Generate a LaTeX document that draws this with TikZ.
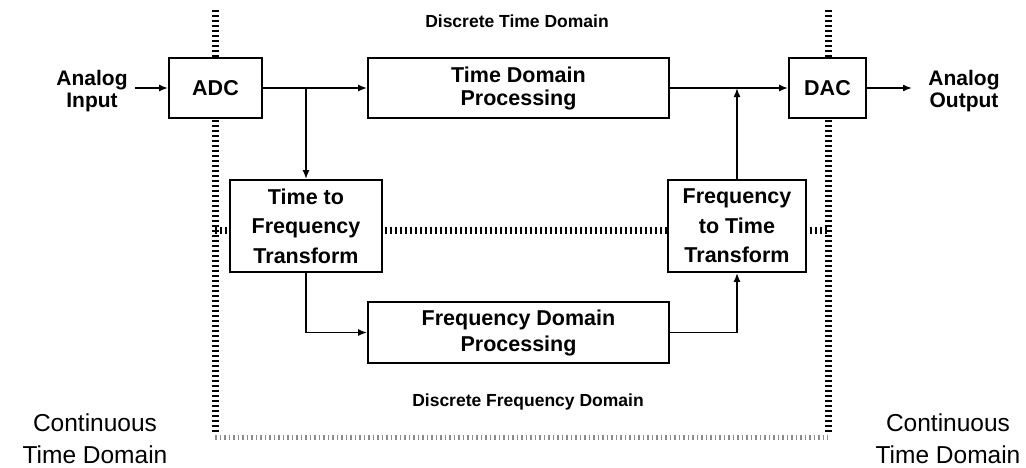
\documentclass[tikz,border=0pt]{standalone}
\usepackage{fontspec}
\setmainfont{Liberation Sans}
\usetikzlibrary{arrows.meta}
\begin{document}
\begin{tikzpicture}[x=1pt,y=-1pt,
  blk/.style={draw=black, line width=1.8pt, fill=white, inner sep=0pt, align=center,
    font=\fontsize{21.5}{23}\selectfont\bfseries},
  conn/.style={line width=1.6pt, -{Latex[length=9pt,width=7pt]}},
  bnd/.style={line width=7pt, dash pattern=on 2pt off 3pt, black},
  bndlight/.style={line width=5pt, dash pattern=on 1.5pt off 3pt, black!45},
  lbl/.style={align=center, inner sep=0pt, font=\fontsize{21}{21.5}\selectfont\bfseries},
  dlbl/.style={inner sep=0pt, font=\fontsize{17.5}{20}\selectfont\bfseries},
  clbl/.style={align=center, inner sep=0pt, font=\fontsize{24.5}{32}\selectfont}
]
\useasboundingbox (0,0) rectangle (1026,467);

% domain boundaries
\coordinate (lt) at (215,10);
\coordinate (lb) at (215,437);
\coordinate (rt) at (828,10);
\coordinate (rb) at (828,437);
\coordinate (ml) at (215,230);
\coordinate (mr) at (828,230);
\draw[bnd] (lt) -- (215,432);
\draw[bnd] (rt) -- (828,432);
\draw[bnd] (ml) -- (mr);
\draw[bndlight] (lb) -- (rb);

% blocks
\node[blk, minimum width=93pt, minimum height=60pt] (adc) at (215.5,88) {ADC};
\node[blk, minimum width=77pt, minimum height=60pt] (dac) at (827.5,88) {DAC};
\node[blk, minimum width=301pt, minimum height=60pt] (tdp) at (518.5,88) {Time Domain\\Processing};
\node[blk, minimum width=152pt, minimum height=92pt, font=\fontsize{21.5}{29.5}\selectfont\bfseries] (t2f) at (306,226) {Time to\\Frequency\\Transform};
\node[blk, minimum width=138pt, minimum height=92pt, font=\fontsize{21.5}{29.5}\selectfont\bfseries] (f2t) at (737,226) {Frequency\\to Time\\Transform};
\node[blk, minimum width=301pt, minimum height=61pt, font=\fontsize{21.5}{26}\selectfont\bfseries] (fdp) at (518.5,332.5) {Frequency Domain\\Processing};

% labels
\node[lbl] (ain) at (92,91) {Analog\\Input};
\node[lbl] (aout) at (964,91) {Analog\\Output};
\node[dlbl] (dtd) at (517,21) {Discrete Time Domain};
\node[dlbl] (dfd) at (528,402) {Discrete Frequency Domain};
\node[clbl] (ctl) at (95,438.5) {Continuous\\Time Domain};
\node[clbl] (ctr) at (948,438.5) {Continuous\\Time Domain};

% connectors
\coordinate (in) at (135,88);
\coordinate (out) at (912,88);
\draw[conn] (in) -- (adc.west);
\draw[conn] (adc.east) -- (tdp.west);
\draw[conn] (t2f.north |- adc.east) -- (t2f.north);
\draw[conn] (t2f.south) |- (fdp.west);
\draw[conn] (fdp.east) -| (f2t.south);
\draw[conn] (f2t.north) -- (f2t.north |- tdp.east);
\draw[conn] (tdp.east) -- (dac.west);
\draw[conn] (dac.east) -- (out);
\end{tikzpicture}
\end{document}
